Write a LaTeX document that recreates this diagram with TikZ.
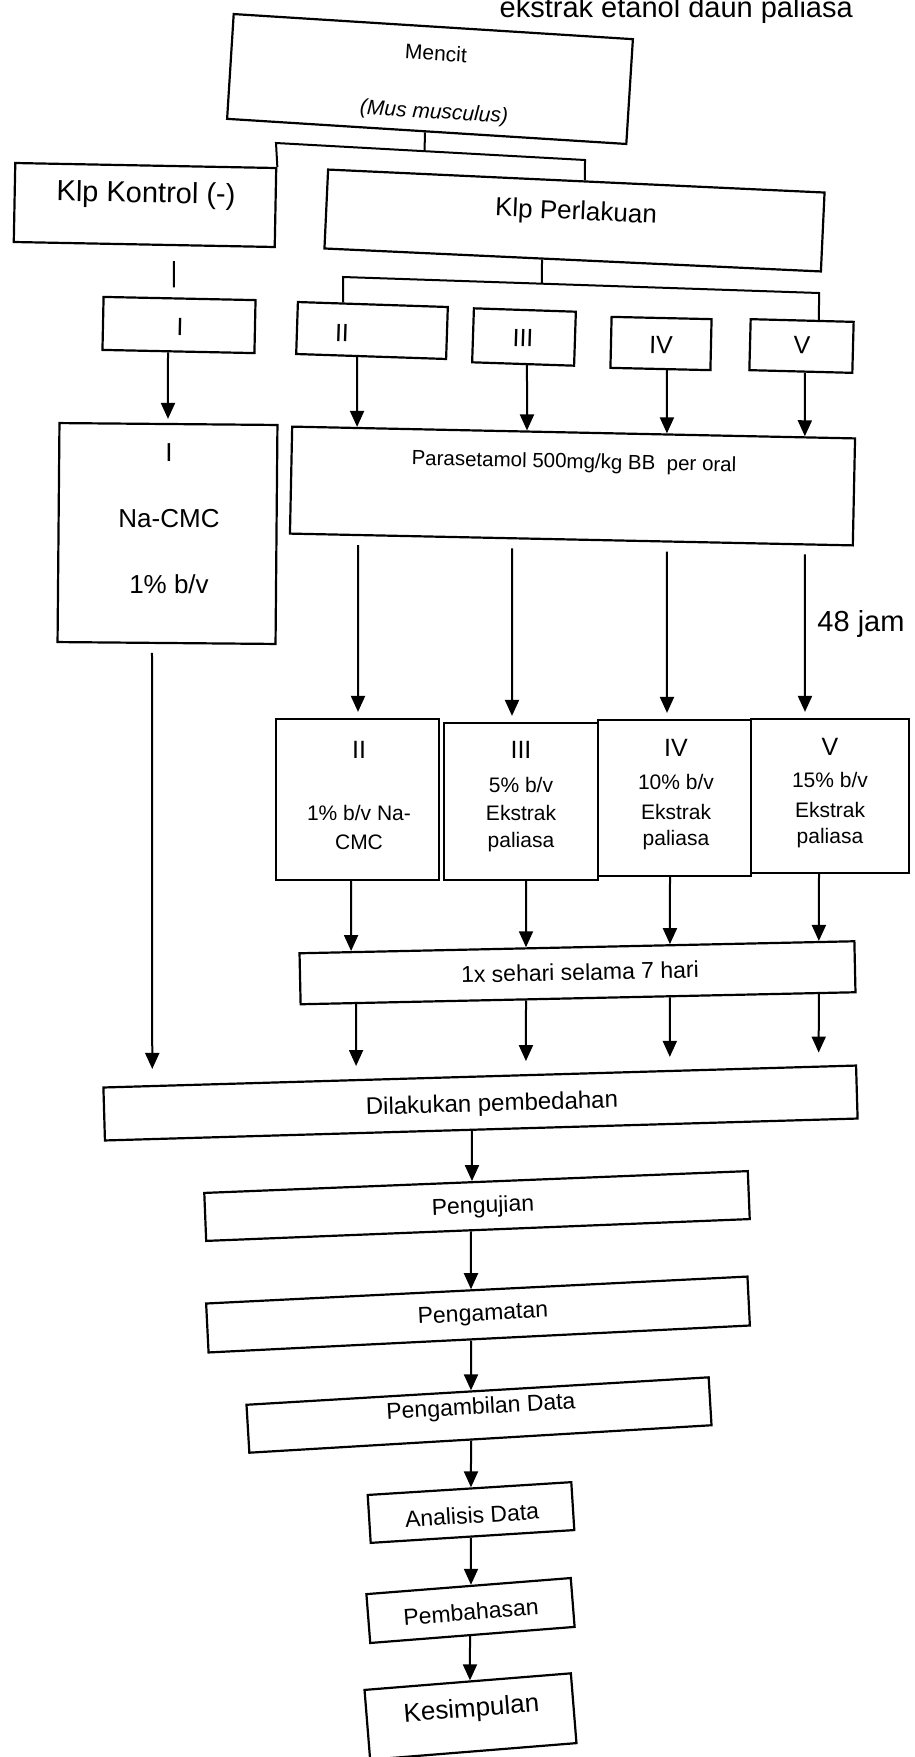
\documentclass[tikz,border=0pt]{standalone}
\usepackage{fontspec}
\setmainfont{Liberation Sans}
\usetikzlibrary{arrows.meta,calc}
\newcommand{\vlink}[4]{%
  \draw[#1] ($(#3.south west)!(#2,0 |- #3.south)!(#3.south east)$) -- ($(#4.north west)!(#2,0 |- #4.north)!(#4.north east)$);}
\begin{document}
\begin{tikzpicture}[x=1pt,y=-1pt,
  box/.style={draw, line width=2.2pt, inner sep=0pt},
  conn/.style={line width=2pt},
  arr/.style={conn, -{Triangle[length=16pt,width=14pt]}},
  t20/.style={font=\fontsize{20.5pt}{24pt}\selectfont, inner sep=0pt},
  t21/.style={font=\fontsize{21pt}{25pt}\selectfont, inner sep=0pt},
  t23/.style={font=\fontsize{23pt}{27pt}\selectfont, inner sep=0pt},
  t24/.style={font=\fontsize{24pt}{28pt}\selectfont, inner sep=0pt},
  t25/.style={font=\fontsize{25pt}{29pt}\selectfont, inner sep=0pt},
  t26/.style={font=\fontsize{26pt}{30pt}\selectfont, inner sep=0pt},
  t29/.style={font=\fontsize{29pt}{34pt}\selectfont, inner sep=0pt}]
\path[use as bounding box] (0,0) rectangle (914,1757);
\clip (0,0) rectangle (914,1757);
\fill[white] (0,0) rectangle (914,1757);

% title (cut at top)
\node[t29, anchor=base east] (title) at (853,17) {ekstrak etanol daun paliasa};

% Mencit
\node[box, minimum width=400pt, minimum height=105pt, rotate=-3.6] (mencit) at (430,79) {};
\node[t21, rotate=-3.6] (tMencit) at (436,53) {Mencit};
\node[t21, rotate=-3.6] (tMus) at (434,113) {\textit{(Mus musculus)}};

% groups
\node[box, minimum width=261pt, minimum height=79pt, rotate=-1.1] (kontrol) at (145,205) {};
\node[t29, rotate=-1.1] (tKontrol) at (146,195) {Klp Kontrol (-)};
\node[box, minimum width=497pt, minimum height=79pt, rotate=-2.65] (perlakuan) at (574.5,220.5) {};
\node[t26, rotate=-2.65] (tPerlakuan) at (576,213) {Klp Perlakuan};

\coordinate (barL) at (276,143);
\coordinate (barR) at (585,160);
\draw[conn] (kontrol.north east) -- (barL) -- (barR) -- ($(perlakuan.north west)!(585,0 |- perlakuan.north)!(perlakuan.north east)$);
\draw[conn] ($(mencit.south west)!(425,0 |- mencit.south)!(mencit.south east)$) -- ($(barL)!(425,0 |- barL)!(barR)$);

% row 1 small boxes
\node[box, minimum width=152pt, minimum height=53pt, rotate=-1.2] (kI) at (179,325) {};
\node[box, minimum width=150pt, minimum height=52pt, rotate=-1.9] (kII) at (372,330.5) {};
\node[box, minimum width=102pt, minimum height=54pt, rotate=-1.9] (kIII) at (524,337) {};
\node[box, minimum width=100pt, minimum height=51pt, rotate=-1.3] (kIV) at (661,343.5) {};
\node[box, minimum width=103pt, minimum height=51pt, rotate=-1.5] (kV) at (801.5,346) {};
\node[t25, rotate=-1.2] (tkI) at (180,327) {I};
\node[t25, rotate=-1.9] (tkII) at (342,333) {II};
\node[t25, rotate=-1.9] (tkIII) at (523,338) {III};
\node[t25, rotate=-1.3] (tkIV) at (661,345) {IV};
\node[t25, rotate=-1.5] (tkV) at (802,345) {V};

\coordinate (bar2L) at (343,277);
\coordinate (bar2R) at (819,293);
\draw[conn] ($(perlakuan.south west)!(542,0 |- perlakuan.south)!(perlakuan.south east)$) -- ($(bar2L)!(542,0 |- bar2L)!(bar2R)$);
\draw[conn] ($(kII.north west)!(343,0 |- kII.north)!(kII.north east)$) -- (bar2L) -- (bar2R) -- ($(kV.north west)!(819,0 |- kV.north)!(kV.north east)$);
\vlink{conn, shorten <=15pt, shorten >=10pt}{174}{kontrol}{kI}

% Na-CMC and Parasetamol
\node[box, minimum width=218pt, minimum height=219pt, rotate=-0.5] (nacmc) at (167.5,533.5) {};
\node[t26] (tnI) at (169,453) {I};
\node[t26] (tnNa) at (169,519) {Na-CMC};
\node[t26] (tnB) at (169,584) {1\% b/v};
\node[box, minimum width=563pt, minimum height=107pt, rotate=-1.2] (para) at (572.5,486) {};
\node[t20, rotate=-1.2] (tPara) at (574,463) {Parasetamol 500mg/kg BB \ per oral};
\node[t29] (t48) at (861,624) {48 jam};

\vlink{arr, shorten >=4pt}{168}{kI}{nacmc}
\vlink{arr}{357}{kII}{para}
\vlink{arr}{527}{kIII}{para}
\vlink{arr}{667}{kIV}{para}
\vlink{arr}{805}{kV}{para}

% row 2
\node[box, minimum width=163pt, minimum height=161pt] (bII) at (357.5,799.5) {};
\node[box, minimum width=154pt, minimum height=157pt] (bIII) at (521,801.5) {};
\node[box, minimum width=153pt, minimum height=156pt] (bIV) at (674.5,798) {};
\node[box, minimum width=158pt, minimum height=154pt] (bV) at (830,796) {};

\node[t25] (tbII) at (359,750) {II};
\node[t21] (tbIIa) at (359,813) {1\% b/v Na-};
\node[t21] (tbIIb) at (359,842) {CMC};
\node[t25] (tbIII) at (521,750) {III};
\node[t21] (tbIIIa) at (521,785) {5\% b/v};
\node[t21] (tbIIIb) at (521,813) {Ekstrak};
\node[t21] (tbIIIc) at (521,842) {paliasa};
\node[t25] (tbIV) at (676,748) {IV};
\node[t21] (tbIVa) at (676,782) {10\% b/v};
\node[t21] (tbIVb) at (676,812) {Ekstrak};
\node[t21] (tbIVc) at (676,840) {paliasa};
\node[t25] (tbV) at (830,747) {V};
\node[t21] (tbVa) at (830,780) {15\% b/v};
\node[t21] (tbVb) at (830,810) {Ekstrak};
\node[t21] (tbVc) at (830,838) {paliasa};

\vlink{arr, shorten <=9pt, shorten >=6pt}{358}{para}{bII}
\vlink{arr, shorten <=9pt, shorten >=6pt}{512}{para}{bIII}
\vlink{arr, shorten <=9pt, shorten >=6pt}{667}{para}{bIV}
\vlink{arr, shorten <=9pt, shorten >=6pt}{805}{para}{bV}

% sehari
\node[box, minimum width=555pt, minimum height=51pt, rotate=1.24] (sehari) at (577.5,972.75) {};
\node[t23, rotate=1.24] (tSehari) at (580,972) {1x sehari selama 7 hari};
\vlink{arr}{351}{bII}{sehari}
\vlink{arr}{526}{bIII}{sehari}
\vlink{arr}{670}{bIV}{sehari}
\vlink{arr}{819}{bV}{sehari}

% bedah
\node[box, minimum width=753pt, minimum height=53pt, rotate=1.67] (bedah) at (480.5,1103) {};
\node[t24, rotate=1.67] (tBedah) at (492,1105) {Dilakukan pembedahan};
\vlink{arr, shorten <=9pt, shorten >=16pt}{152}{nacmc}{bedah}
\vlink{arr, shorten >=13pt}{356}{sehari}{bedah}
\vlink{arr, shorten >=13pt}{526}{sehari}{bedah}
\vlink{arr, shorten >=13pt}{670}{sehari}{bedah}
\vlink{arr, shorten >=13pt}{819}{sehari}{bedah}

% chain
\node[box, minimum width=544pt, minimum height=48pt, rotate=2.3] (uji) at (477,1206) {};
\node[t23, rotate=2.3] (tUji) at (483,1207) {Pengujian};
\node[box, minimum width=542pt, minimum height=49pt, rotate=2.85] (amat) at (478,1314.5) {};
\node[t23, rotate=2.85] (tAmat) at (483,1315) {Pengamatan};
\node[box, minimum width=463pt, minimum height=48pt, rotate=3.4] (ambil) at (479,1415) {};
\node[t23, rotate=3.4] (tAmbil) at (481,1408) {Pengambilan Data};
\node[box, minimum width=204pt, minimum height=48pt, rotate=3.6] (analisis) at (471,1512.5) {};
\node[t23, rotate=3.6] (tAnalisis) at (472,1515) {Analisis Data};
\node[box, minimum width=205pt, minimum height=49pt, rotate=4.5] (bahas) at (470.5,1610.5) {};
\node[t23, rotate=4.5] (tBahas) at (471,1612) {Pembahasan};
\node[box, minimum width=207pt, minimum height=70pt, rotate=4.6] (simpul) at (470.5,1716.5) {};
\node[t26, rotate=4.6] (tSimpul) at (471.5,1710) {Kesimpulan};

\vlink{arr}{472}{bedah}{uji}
\vlink{arr}{471}{uji}{amat}
\vlink{arr}{471}{amat}{ambil}
\vlink{arr}{471}{ambil}{analisis}
\vlink{arr}{471}{analisis}{bahas}
\vlink{arr}{470}{bahas}{simpul}
\end{tikzpicture}
\end{document}
